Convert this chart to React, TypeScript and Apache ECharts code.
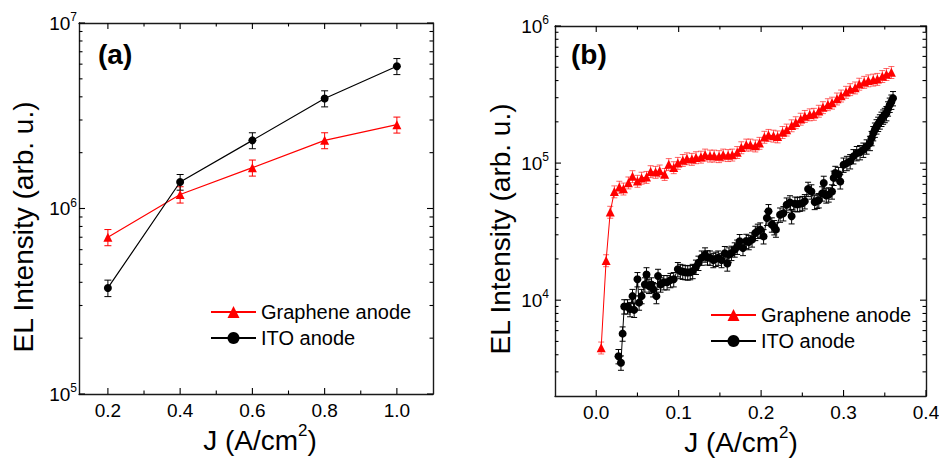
import React, { useEffect, useRef } from 'react';
import * as echarts from 'echarts';

// ---------- Panel (a) data ----------
const jA = [0.2, 0.4, 0.6, 0.8, 1.0];
const graphA = [7.0e5, 1.19e6, 1.66e6, 2.33e6, 2.83e6];
const graphAErr = [0.7e5, 1.2e5, 1.65e5, 2.3e5, 2.8e5];
const itoA = [3.73e5, 1.39e6, 2.33e6, 3.92e6, 5.85e6];
const itoAErr = [0.38e5, 1.35e5, 2.3e5, 3.9e5, 5.8e5];

// ---------- Panel (b) data ----------
const jGraphB = [0.006, 0.012, 0.017, 0.022, 0.028, 0.033, 0.039, 0.044, 0.050, 0.055, 0.061, 0.066, 0.072, 0.077, 0.083, 0.088, 0.094, 0.099, 0.105, 0.110, 0.116, 0.121, 0.127, 0.132, 0.138, 0.143, 0.149, 0.154, 0.160, 0.165, 0.171, 0.176, 0.182, 0.187, 0.193, 0.198, 0.204, 0.209, 0.215, 0.220, 0.226, 0.231, 0.237, 0.242, 0.248, 0.253, 0.259, 0.264, 0.270, 0.275, 0.281, 0.286, 0.292, 0.297, 0.303, 0.308, 0.314, 0.319, 0.325, 0.330, 0.336, 0.341, 0.347, 0.352, 0.358];
const graphB = [4500, 19500, 44000, 62000, 67000, 65000, 72000, 80000, 74000, 78000, 79000, 87000, 86000, 88000, 83000, 98000, 93000, 100000, 105000, 108000, 107000, 110000, 111000, 115000, 113000, 113000, 112000, 115000, 114000, 115000, 120000, 130000, 136000, 136000, 134000, 140000, 155000, 160000, 158000, 156000, 168000, 175000, 188000, 198000, 210000, 220000, 226000, 228000, 240000, 255000, 268000, 275000, 295000, 310000, 330000, 345000, 355000, 378000, 390000, 400000, 405000, 410000, 430000, 445000, 460000];
const jItoB = [0.027, 0.030, 0.032, 0.034, 0.038, 0.041, 0.044, 0.046, 0.050, 0.052, 0.055, 0.059, 0.061, 0.064, 0.067, 0.069, 0.073, 0.075, 0.078, 0.082, 0.086, 0.090, 0.094, 0.099, 0.102, 0.105, 0.108, 0.111, 0.114, 0.117, 0.121, 0.124, 0.128, 0.132, 0.135, 0.138, 0.142, 0.145, 0.148, 0.152, 0.156, 0.159, 0.161, 0.164, 0.168, 0.171, 0.174, 0.178, 0.182, 0.185, 0.189, 0.193, 0.196, 0.199, 0.203, 0.207, 0.209, 0.213, 0.216, 0.218, 0.223, 0.227, 0.231, 0.235, 0.237, 0.241, 0.244, 0.247, 0.250, 0.253, 0.257, 0.261, 0.265, 0.268, 0.270, 0.274, 0.276, 0.279, 0.282, 0.286, 0.288, 0.290, 0.294, 0.296, 0.300, 0.304, 0.308, 0.312, 0.316, 0.320, 0.324, 0.328, 0.332, 0.334, 0.336, 0.338, 0.340, 0.342, 0.344, 0.346, 0.348, 0.350, 0.352, 0.354, 0.356, 0.358, 0.360];
const itoB = [3900, 3500, 5700, 9000, 9000, 8600, 10700, 8500, 14200, 9600, 10700, 13000, 15400, 12700, 13000, 12000, 10700, 15000, 13000, 13500, 13500, 14000, 14200, 16800, 16300, 16100, 16000, 15900, 16000, 16300, 17500, 18700, 20400, 21500, 20500, 20400, 19600, 20000, 20400, 19600, 22000, 18500, 21500, 22100, 23400, 24500, 26900, 24000, 27000, 26500, 27700, 30900, 32000, 32700, 29200, 39800, 44500, 35600, 34000, 32700, 42000, 43000, 49700, 51600, 40900, 50500, 50000, 50500, 51000, 52600, 64700, 62000, 52000, 53000, 53500, 60000, 71600, 58000, 59000, 62000, 78000, 84600, 83000, 73500, 97200, 100000, 103000, 112000, 118000, 120000, 125000, 132000, 140000, 152000, 165000, 175000, 185000, 193000, 201000, 210000, 218000, 224000, 231000, 250000, 266000, 280000, 297000];
const graphBErrFrac = 0.1;
const itoBErrFrac = 0.12;

// ---------- Axis ticks / labels ----------
const xRangeA = [0.12, 1.1];
const yRangeA = [1e5, 1e7];
const xMajorA = [0.2, 0.4, 0.6, 0.8, 1.0];
const xLabelsA = ['0.2', '0.4', '0.6', '0.8', '1.0'];
const xMinorA = [0.3, 0.5, 0.7, 0.9];
const yMajorA = [1e5, 1e6, 1e7];
const yExpA = ['5', '6', '7'];

const xRangeB = [-0.05, 0.4];
const yRangeB = [2000, 1e6];
const xMajorB = [0.0, 0.1, 0.2, 0.3, 0.4];
const xLabelsB = ['0.0', '0.1', '0.2', '0.3', '0.4'];
const xMinorB = [0.05, 0.15, 0.25, 0.35];
const yMajorB = [1e4, 1e5, 1e6];
const yExpB = ['4', '5', '6'];

const seriesNames = ['Graphene anode', 'ITO anode'];
const FONT = '"Liberation Sans", Arial, Helvetica, sans-serif';
const RED = '#ff0000';

function logMinors(lo: number, hi: number): number[] {
  const out: number[] = [];
  for (let d = Math.floor(Math.log10(lo)); d < Math.ceil(Math.log10(hi)); d++) {
    for (let k = 2; k <= 9; k++) {
      const v = k * Math.pow(10, d);
      if (v > lo && v < hi) out.push(v);
    }
  }
  return out;
}

function tickSeries(xi: number, yi: number, xr: number[], yr: number[], xMaj: number[], xLab: string[], xMin: number[], yMaj: number[], yExp: string[], yMin: number[], yLabMargin: number) {
  const items: any[] = [];
  xMaj.forEach((v, i) => items.push({ kind: 0, v, label: xLab[i] }));
  xMin.forEach((v) => items.push({ kind: 1, v }));
  yMaj.forEach((v, i) => items.push({ kind: 2, v, label: yExp[i] }));
  yMin.forEach((v) => items.push({ kind: 3, v }));
  const data = items.map((t) => (t.kind < 2 ? [t.v, yr[0]] : [xr[0], t.v]));
  return {
    type: 'custom',
    xAxisIndex: xi,
    yAxisIndex: yi,
    data,
    silent: true,
    clip: false,
    z: 6,
    renderItem: (params: any, api: any) => {
      const t = items[params.dataIndex];
      const ls = { stroke: '#000', lineWidth: 1.1 };
      const children: any[] = [];
      if (t.kind < 2) {
        const len = t.kind === 0 ? 6 : 3.5;
        const b = api.coord([t.v, yr[0]]);
        const tp = api.coord([t.v, yr[1]]);
        children.push({ type: 'line', shape: { x1: b[0], y1: b[1], x2: b[0], y2: b[1] - len }, style: ls });
        children.push({ type: 'line', shape: { x1: tp[0], y1: tp[1], x2: tp[0], y2: tp[1] + len }, style: ls });
        if (t.kind === 0) {
          children.push({
            type: 'text', x: b[0], y: b[1] + 7,
            style: { text: t.label, align: 'center', verticalAlign: 'top', fontSize: 19, fontFamily: FONT, fill: '#000' },
          });
        }
      } else {
        const len = t.kind === 2 ? 6 : 3.5;
        const l = api.coord([xr[0], t.v]);
        const r = api.coord([xr[1], t.v]);
        children.push({ type: 'line', shape: { x1: l[0], y1: l[1], x2: l[0] + len, y2: l[1] }, style: ls });
        children.push({ type: 'line', shape: { x1: r[0], y1: r[1], x2: r[0] - len, y2: r[1] }, style: ls });
        if (t.kind === 2) {
          children.push({
            type: 'text', x: l[0] - yLabMargin, y: l[1],
            style: {
              text: `{b|10}{s|${t.label}}`,
              align: 'right', verticalAlign: 'middle', fill: '#000',
              rich: {
                b: { fontSize: 19, fontFamily: FONT, lineHeight: 24, fill: '#000' },
                s: { fontSize: 12, fontFamily: FONT, lineHeight: 12, verticalAlign: 'top', fill: '#000' },
              },
            },
          });
        }
      }
      return { type: 'group', children };
    },
  };
}

function errSeries(xi: number, yi: number, xs: number[], ys: number[], errs: number[], color: string, capHalf: number) {
  return {
    type: 'custom',
    xAxisIndex: xi,
    yAxisIndex: yi,
    data: xs.map((x, i) => [x, ys[i], ys[i] - errs[i], ys[i] + errs[i]]),
    encode: { x: 0, y: 1 },
    silent: true,
    clip: false,
    z: 2,
    renderItem: (params: any, api: any) => {
      const x = api.value(0);
      const lo = api.coord([x, api.value(2)]);
      const hi = api.coord([x, api.value(3)]);
      const st = { stroke: color, lineWidth: 1 };
      return {
        type: 'group',
        children: [
          { type: 'line', shape: { x1: lo[0], y1: lo[1], x2: hi[0], y2: hi[1] }, style: st },
          { type: 'line', shape: { x1: lo[0] - capHalf, y1: lo[1], x2: lo[0] + capHalf, y2: lo[1] }, style: st },
          { type: 'line', shape: { x1: hi[0] - capHalf, y1: hi[1], x2: hi[0] + capHalf, y2: hi[1] }, style: st },
        ],
      };
    },
  };
}

function frameAxis(gridIndex: number, type: string, range: number[], position: string, extra: any = {}) {
  return {
    gridIndex, type, min: range[0], max: range[1], position,
    axisLine: { show: true, onZero: false, lineStyle: { color: '#1a1a1a', width: 1.4 } },
    axisTick: { show: false },
    axisLabel: { show: false },
    splitLine: { show: false },
    minorTick: { show: false },
    ...extra,
  };
}

export default function App() {
  const ref = useRef<HTMLDivElement>(null);
  useEffect(() => {
    if (!ref.current) return;
    const chart = echarts.init(ref.current, null, { renderer: 'svg' });
    const pairs = (xs: number[], ys: number[]) => xs.map((x, i) => [x, ys[i]]);
    const legendCommon = {
      orient: 'vertical',
      itemWidth: 45,
      itemHeight: 15,
      itemGap: 6,
      selectedMode: false,
      data: seriesNames,
      textStyle: { fontSize: 20, lineHeight: 20, fontFamily: FONT, color: '#000' },
    };
    const option: any = {
      animation: false,
      backgroundColor: '#fff',
      grid: [
        { left: 79, top: 23, width: 354, height: 371 },
        { left: 555, top: 26, width: 371, height: 370 },
      ],
      xAxis: [
        frameAxis(0, 'value', xRangeA, 'bottom'),
        frameAxis(0, 'value', xRangeA, 'top'),
        frameAxis(1, 'value', xRangeB, 'bottom'),
        frameAxis(1, 'value', xRangeB, 'top'),
      ],
      yAxis: [
        frameAxis(0, 'log', yRangeA, 'left', { logBase: 10 }),
        frameAxis(0, 'log', yRangeA, 'right', { logBase: 10 }),
        frameAxis(1, 'log', yRangeB, 'left', { logBase: 10 }),
        frameAxis(1, 'log', yRangeB, 'right', { logBase: 10 }),
      ],
      legend: [
        { ...legendCommon, left: 205, top: 297 },
        { ...legendCommon, left: 705, top: 300 },
      ],
      graphic: [
        { type: 'text', x: 98, y: 54, style: { text: '(a)', fontSize: 28, fontWeight: 'bold', fontFamily: FONT, fill: '#000', align: 'left', verticalAlign: 'middle' } },
        { type: 'text', x: 571, y: 54, style: { text: '(b)', fontSize: 28, fontWeight: 'bold', fontFamily: FONT, fill: '#000', align: 'left', verticalAlign: 'middle' } },
        { type: 'text', x: 23, y: 227, rotation: Math.PI / 2, style: { text: 'EL Intensity (arb. u.)', fontSize: 28, fontFamily: FONT, fill: '#000', align: 'center', verticalAlign: 'middle' } },
        { type: 'text', x: 500, y: 229, rotation: Math.PI / 2, style: { text: 'EL Intensity (arb. u.)', fontSize: 28, fontFamily: FONT, fill: '#000', align: 'center', verticalAlign: 'middle' } },
        { type: 'text', x: 260, y: 440, style: { text: '{n|J (A/cm}{s|2}{n|)}', align: 'center', verticalAlign: 'middle', rich: { n: { fontSize: 28, fontFamily: FONT, lineHeight: 36, fill: '#000' }, s: { fontSize: 17, fontFamily: FONT, lineHeight: 17, verticalAlign: 'top', fill: '#000' } } } },
        { type: 'text', x: 741, y: 442, style: { text: '{n|J (A/cm}{s|2}{n|)}', align: 'center', verticalAlign: 'middle', rich: { n: { fontSize: 28, fontFamily: FONT, lineHeight: 36, fill: '#000' }, s: { fontSize: 17, fontFamily: FONT, lineHeight: 17, verticalAlign: 'top', fill: '#000' } } } },
      ],
      series: [
        { name: seriesNames[0], type: 'line', xAxisIndex: 0, yAxisIndex: 0, data: pairs(jA, graphA), symbol: 'triangle', symbolSize: 9, z: 3, itemStyle: { color: RED }, lineStyle: { color: RED, width: 1.2 } },
        { name: seriesNames[1], type: 'line', xAxisIndex: 0, yAxisIndex: 0, data: pairs(jA, itoA), symbol: 'circle', symbolSize: 8, z: 3, itemStyle: { color: '#000' }, lineStyle: { color: '#000', width: 1.2 } },
        errSeries(0, 0, jA, graphA, graphAErr, RED, 3.5),
        errSeries(0, 0, jA, itoA, itoAErr, '#000', 3.5),
        { name: seriesNames[0], type: 'line', xAxisIndex: 2, yAxisIndex: 2, data: pairs(jGraphB, graphB), symbol: 'triangle', symbolSize: 9, z: 3, itemStyle: { color: RED }, lineStyle: { color: RED, width: 1 } },
        { name: seriesNames[1], type: 'line', xAxisIndex: 2, yAxisIndex: 2, data: pairs(jItoB, itoB), symbol: 'circle', symbolSize: 8, z: 3, itemStyle: { color: '#000' }, lineStyle: { color: '#000', width: 1 } },
        errSeries(2, 2, jGraphB, graphB, graphB.map((v) => v * graphBErrFrac), 'rgba(255,0,0,0.6)', 3),
        errSeries(2, 2, jItoB, itoB, itoB.map((v) => v * itoBErrFrac), '#000', 3),
        tickSeries(0, 0, xRangeA, yRangeA, xMajorA, xLabelsA, xMinorA, yMajorA, yExpA, logMinors(yRangeA[0], yRangeA[1]), 2),
        tickSeries(2, 2, xRangeB, yRangeB, xMajorB, xLabelsB, xMinorB, yMajorB, yExpB, logMinors(yRangeB[0], yRangeB[1]), 6),
      ],
    };
    chart.setOption(option);
    return () => chart.dispose();
  }, []);
  return <div ref={ref} style={{ position: 'absolute', left: 0, top: 0, width: 939, height: 462, background: '#fff' }} />;
}
